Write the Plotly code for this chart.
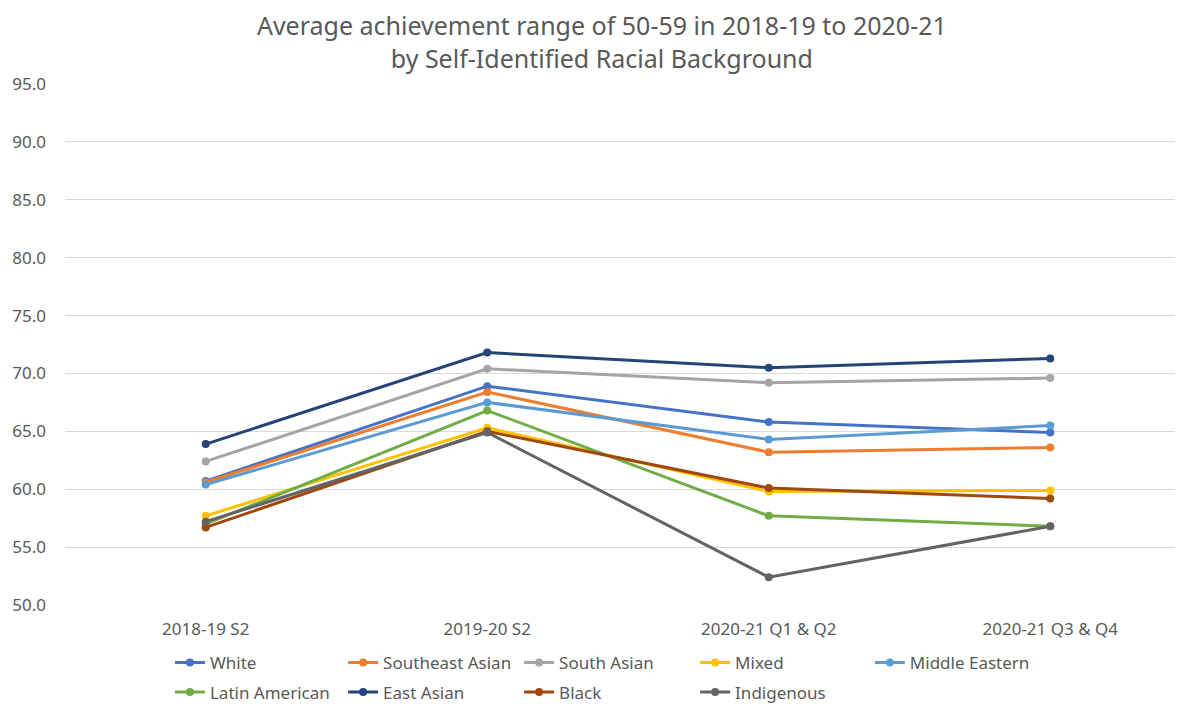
import plotly.graph_objects as go

categories = ["2018-19 S2", "2019-20 S2", "2020-21 Q1 & Q2", "2020-21 Q3 & Q4"]

white = [60.7, 68.9, 65.8, 64.9]
southeast_asian = [60.6, 68.4, 63.2, 63.6]
south_asian = [62.4, 70.4, 69.2, 69.6]
mixed = [57.7, 65.3, 59.8, 59.9]
middle_eastern = [60.4, 67.5, 64.3, 65.5]
latin_american = [57.0, 66.8, 57.7, 56.8]
east_asian = [63.9, 71.8, 70.5, 71.3]
black = [56.7, 65.0, 60.1, 59.2]
indigenous = [57.2, 64.9, 52.4, 56.8]

series = [
    ("White", white, "#4472C4"),
    ("Southeast Asian", southeast_asian, "#ED7D31"),
    ("South Asian", south_asian, "#A5A5A5"),
    ("Mixed", mixed, "#FFC000"),
    ("Middle Eastern", middle_eastern, "#5B9BD5"),
    ("Latin American", latin_american, "#70AD47"),
    ("East Asian", east_asian, "#264478"),
    ("Black", black, "#9E480E"),
    ("Indigenous", indigenous, "#636363"),
]

# legend placement (column x in paper, row y in paper)
col_x = [0.0932, 0.247, 0.4033, 0.5596, 0.7148]
row_y = [-0.111, -0.168]
legend_pos = [(col_x[i % 5], row_y[i // 5]) for i in range(9)]

FONT = "Noto Sans"
GRAY = "#595959"

fig = go.Figure()
layout_legends = {}
for i, (name, vals, color) in enumerate(series):
    lname = "legend" if i == 0 else f"legend{i+1}"
    fig.add_trace(go.Scatter(
        x=categories, y=vals, name=name, mode="lines+markers",
        line=dict(color=color, width=3),
        marker=dict(color=color, size=8),
        legend=lname,
    ))
    lx, ly = legend_pos[i]
    layout_legends[lname] = dict(
        x=lx, y=ly, xanchor="left", yanchor="middle",
        font=dict(family=FONT, size=17, color=GRAY),
        bgcolor="rgba(0,0,0,0)", itemwidth=30,
    )

fig.update_layout(
    width=1183, height=720,
    margin=dict(l=57, r=0, t=76, b=123),
    paper_bgcolor="white", plot_bgcolor="white",
    title=dict(
        text="Average achievement range of 50-59 in 2018-19 to 2020-21<br>by Self-Identified Racial Background",
        x=0.502, xanchor="center", y=0.962, yanchor="middle",
        font=dict(family=FONT, size=25, color=GRAY),
    ),
    xaxis=dict(
        type="category", range=[-0.5, 3.5], showgrid=False, showline=False,
        zeroline=False, ticks="", ticklabelstandoff=12,
        tickfont=dict(family=FONT, size=17, color=GRAY),
    ),
    yaxis=dict(
        range=[50, 95], dtick=5, tick0=50, tickformat=".1f",
        showgrid=True, gridcolor="#D9D9D9", gridwidth=1,
        zeroline=False, showline=False, ticks="", ticklabelstandoff=18,
        tickfont=dict(family=FONT, size=17, color=GRAY),
    ),
    showlegend=True,
    **layout_legends,
)

fig.write_html("out.html")
